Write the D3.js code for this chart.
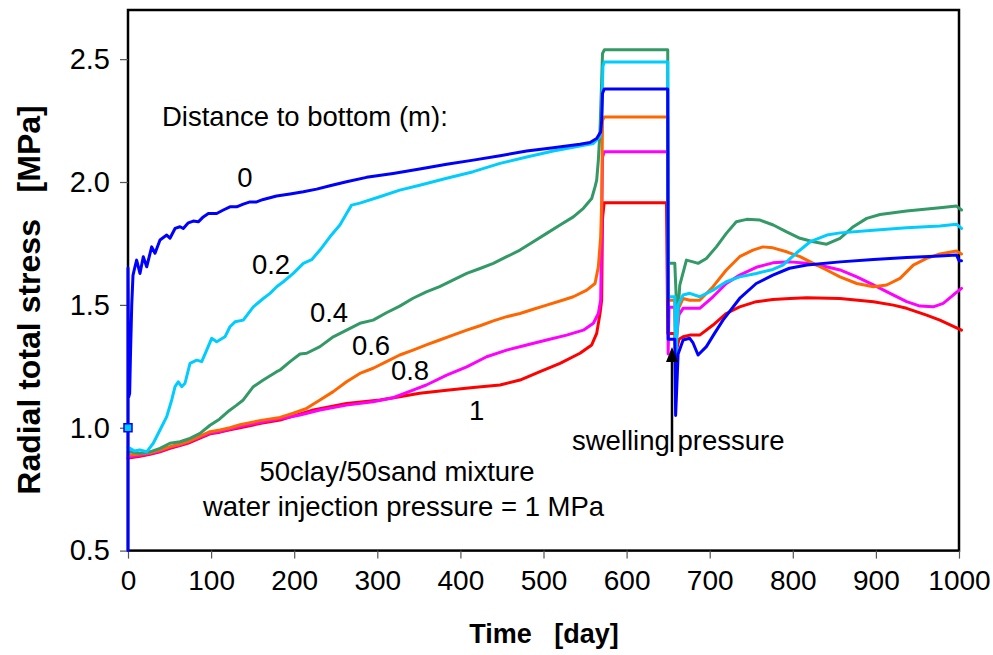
<!DOCTYPE html>
<html><head><meta charset="utf-8">
<script src="https://cdn.jsdelivr.net/npm/d3@7"></script>
<style>
html,body{margin:0;padding:0;background:#fff;}
svg text{font-family:Arial,"Liberation Sans",sans-serif;fill:#000;}
</style></head>
<body><svg id="c" width="993" height="655"></svg>
<script>
// ---- data ----
const xTicks = [0,100,200,300,400,500,600,700,800,900,1000];
const yTicks = [0.5,1.0,1.5,2.0,2.5];
const seriesNames = ["0","0.2","0.4","0.6","0.8","1"];
const seriesColors = ["#0000FF","#00CCFF","#339966","#FF6600","#FF00FF","#FF0000"];

const s0 = [[0,0.5],[0,1.65],[0.8,1.125],[2,1.14],[3,1.3],[4.5,1.5],[6,1.62],[8.4,1.655],[10.4,1.682],[14.4,1.628],[18.4,1.696],[22.5,1.655],[28.5,1.736],[32.5,1.71],[38.5,1.764],[46.6,1.784],[50.5,1.771],[56.6,1.811],[62.6,1.818],[66.5,1.811],[72.6,1.834],[78.6,1.841],[84.6,1.838],[90.6,1.858],[96.7,1.872],[106.7,1.872],[114.7,1.886],[122.7,1.899],[130.7,1.899],[138.7,1.91],[146.8,1.919],[154.8,1.919],[162.8,1.929],[178.8,1.943],[195,1.951],[211,1.96],[227,1.971],[243,1.985],[263,2.001],[287,2.019],[319,2.035],[351,2.053],[383.5,2.072],[415.5,2.089],[447.7,2.107],[479.8,2.126],[511.8,2.139],[543.9,2.154],[556,2.161],[564,2.177],[568.8,2.204],[570,2.25],[571,2.36],[573,2.378],[649.5,2.378],[650,1.36],[658,1.36],[659,1.05],[662,1.30],[668,1.357],[676,1.364],[680,1.345],[686,1.296],[696,1.33],[706,1.385],[716,1.438],[736,1.526],[756,1.587],[776,1.621],[796,1.649],[817,1.662],[857,1.675],[897,1.685],[937,1.693],[977,1.699],[997,1.703],[1000,1.68],[1003,1.68]];

const s02 = [[0,0.92],[2.4,0.916],[8,0.905],[14,0.91],[22.5,0.902],[30.4,0.937],[38.5,0.991],[46.6,1.045],[52.6,1.113],[56.6,1.167],[60.5,1.187],[64.6,1.167],[68.6,1.181],[74.6,1.262],[82.7,1.275],[88.7,1.269],[94.7,1.316],[100.7,1.364],[106.7,1.35],[116.7,1.37],[122.7,1.411],[128.8,1.431],[138.7,1.438],[150.8,1.492],[162.8,1.526],[170.9,1.547],[178.9,1.574],[186.9,1.594],[198.9,1.628],[211,1.669],[221,1.684],[231,1.723],[243,1.777],[255,1.825],[263,1.872],[269,1.906],[279,1.914],[303,1.94],[327,1.967],[351,1.987],[383.5,2.015],[415.5,2.042],[447.7,2.076],[479.8,2.102],[511.8,2.126],[543.9,2.146],[560,2.157],[568,2.184],[570,2.25],[571.5,2.47],[573,2.488],[649.5,2.488],[650,1.533],[658,1.533],[659,1.25],[662,1.50],[668,1.54],[676,1.547],[688,1.533],[704,1.56],[720,1.594],[736,1.614],[756,1.628],[776,1.644],[788,1.662],[804,1.71],[821,1.757],[841,1.784],[857,1.793],[897,1.804],[937,1.814],[977,1.821],[997,1.828],[1003,1.811]];

const s04 = [[0,0.9],[2.4,0.902],[14.4,0.896],[26.5,0.902],[38.5,0.916],[50.5,0.937],[62.6,0.943],[74.6,0.957],[86.6,0.977],[98.7,1.01],[110,1.035],[120,1.065],[130,1.09],[138.7,1.113],[150.8,1.167],[162.8,1.194],[178.9,1.228],[183,1.235],[195,1.269],[207,1.3],[215,1.303],[231,1.33],[247,1.37],[263,1.397],[279,1.425],[295,1.438],[311,1.468],[327,1.495],[343,1.527],[359,1.553],[375,1.574],[391,1.601],[407.6,1.628],[423.6,1.648],[439.6,1.669],[455.7,1.696],[471.7,1.723],[487.7,1.757],[503.8,1.791],[519.9,1.825],[535.9,1.858],[548,1.893],[558,1.933],[562,1.98],[564,2.008],[566,2.089],[568,2.211],[570,2.414],[571,2.523],[573.3,2.538],[649.5,2.538],[650,1.669],[658,1.669],[661,1.425],[664,1.58],[672,1.682],[680,1.675],[686,1.669],[696,1.689],[708,1.736],[720,1.791],[732,1.838],[744.5,1.848],[760.5,1.845],[776.5,1.825],[792.6,1.797],[808.7,1.771],[824.7,1.757],[840.7,1.747],[856.8,1.771],[872.8,1.818],[888.9,1.852],[905,1.868],[937,1.882],[977,1.895],[997,1.902],[1003,1.886]];

const s06 = [[0,0.89],[2.4,0.889],[14.4,0.893],[26.5,0.898],[38.5,0.909],[50.5,0.923],[62.6,0.934],[74.6,0.947],[86.6,0.966],[98.7,0.984],[110.7,0.991],[122.7,1.0],[134.8,1.012],[160,1.03],[182.9,1.042],[198.9,1.059],[215,1.079],[231,1.113],[247,1.147],[263,1.187],[279,1.221],[295,1.242],[311,1.269],[327,1.296],[343,1.316],[359,1.337],[375,1.357],[391,1.377],[407.6,1.397],[423.6,1.415],[439.6,1.435],[455.7,1.452],[471.7,1.465],[487.7,1.482],[503.8,1.499],[523.8,1.52],[535.9,1.533],[552,1.56],[562,1.587],[566,1.655],[568.8,1.777],[570,1.913],[571,2.25],[573,2.265],[649.5,2.265],[650,1.519],[658,1.519],[659,1.33],[663,1.49],[668,1.526],[676,1.519],[688,1.519],[704,1.574],[720,1.642],[736,1.696],[752,1.723],[764,1.736],[776,1.732],[792.6,1.716],[808.7,1.696],[824.7,1.669],[840.7,1.642],[856.8,1.614],[877,1.587],[897,1.574],[913,1.581],[929,1.608],[945,1.662],[961,1.689],[977,1.707],[997,1.719],[1003,1.707]];

const s08 = [[0,0.88],[2.4,0.882],[14.4,0.888],[26.5,0.895],[38.5,0.905],[50.5,0.92],[62.6,0.93],[74.6,0.944],[86.6,0.962],[98.7,0.978],[110.7,0.985],[122.7,0.995],[134.8,1.005],[160,1.022],[183,1.036],[207,1.052],[231,1.072],[263,1.092],[295,1.106],[319,1.122],[343,1.153],[359,1.174],[383.5,1.214],[407.6,1.248],[431.6,1.289],[455.7,1.316],[479.8,1.337],[503.8,1.357],[527.8,1.377],[548,1.397],[560,1.425],[566,1.465],[568.8,1.52],[570,1.8],[571,2.1],[573,2.123],[649.5,2.123],[650,1.30],[651,1.49],[658,1.49],[659,1.33],[663,1.46],[668,1.486],[676,1.486],[688,1.486],[704,1.533],[720,1.587],[736,1.621],[756,1.653],[776,1.671],[796.6,1.675],[816.7,1.669],[836.6,1.658],[856.8,1.642],[877,1.614],[897,1.581],[917,1.547],[937,1.513],[953,1.495],[969,1.492],[981,1.506],[993,1.54],[1003,1.567]];

const s1 = [[0,0.875],[2.4,0.878],[14.4,0.884],[26.5,0.892],[38.5,0.902],[50.5,0.916],[62.6,0.927],[74.6,0.94],[86.6,0.958],[98.7,0.975],[110.7,0.982],[122.7,0.992],[134.8,1.0],[160,1.018],[183,1.031],[223,1.072],[263,1.099],[303,1.113],[327,1.126],[351,1.14],[383.5,1.153],[415.5,1.164],[447.7,1.174],[471.7,1.194],[495.8,1.228],[519.9,1.262],[543.9,1.303],[558,1.337],[564,1.384],[568,1.465],[570,1.52],[571,1.85],[573,1.916],[648,1.916],[649.5,1.384],[658,1.384],[659,1.30],[663,1.36],[668,1.37],[676,1.377],[688,1.377],[704,1.418],[720,1.465],[736,1.492],[756,1.513],[776,1.522],[796.6,1.526],[816.7,1.529],[856.8,1.526],[897,1.513],[921,1.499],[937,1.486],[961,1.458],[977,1.438],[1003,1.397]];

const seriesData = [s0, s02, s04, s06, s08, s1];
const markerPoint = [0, 1.0];

// ---- layout ----
const svg = d3.select("#c");
const x = d3.scaleLinear().domain([0,1000]).range([128,959]);
const y = d3.scaleLinear().domain([0.5,2.7]).range([550.6,10]);

// plot frame
svg.append("rect").attr("x",128).attr("y",10).attr("width",831).attr("height",540.6)
  .attr("fill","none").attr("stroke","#000").attr("stroke-width",2.5);

// axes
const xAxis = svg.append("g").attr("transform","translate(0,550.6)")
  .call(d3.axisBottom(x).tickValues(xTicks).tickSize(8).tickPadding(12).tickFormat(d3.format("d")));
const yAxis = svg.append("g").attr("transform","translate(128,0)")
  .call(d3.axisLeft(y).tickValues(yTicks).tickSize(8).tickPadding(10).tickFormat(d3.format(".1f")));
[xAxis,yAxis].forEach(a=>{
  a.select(".domain").remove();
  a.selectAll(".tick line").attr("stroke","#555").attr("stroke-width",1.2);
  a.selectAll(".tick text").attr("font-size",28).attr("fill","#000")
   .attr("font-family","Arial, 'Liberation Sans', sans-serif");
});
yAxis.selectAll(".tick text").attr("font-size",29);

// lines, drawn bottom-most last series first
const line = d3.line().x(d=>x(d[0])).y(d=>y(d[1]));
for (let i = seriesData.length-1; i >= 0; i--) {
  svg.append("path").datum(seriesData[i]).attr("d",line)
    .attr("fill","none").attr("stroke",seriesColors[i]).attr("stroke-width",3)
    .attr("stroke-linejoin","round").attr("stroke-linecap","round");
}
// marker square
svg.append("rect").attr("x",x(markerPoint[0])-4).attr("y",y(markerPoint[1])-4)
  .attr("width",8).attr("height",8).attr("fill","#00CCFF").attr("stroke","#0000FF").attr("stroke-width",1.5);

// annotations
const ann = svg.append("g").attr("font-size",27.5);
ann.append("text").attr("x",162).attr("y",126).text("Distance to bottom (m):");
const labelPos = [[245,187],[271,274],[329,322],[371,355],[410,380],[476.7,420]];
seriesNames.forEach((n,i)=>{
  ann.append("text").attr("x",labelPos[i][0]).attr("y",labelPos[i][1]).attr("text-anchor","middle").text(n);
});
ann.append("text").attr("x",572).attr("y",450).text("swelling pressure");
ann.append("text").attr("x",397).attr("y",481).attr("text-anchor","middle").text("50clay/50sand mixture");
ann.append("text").attr("x",403.5).attr("y",516).attr("text-anchor","middle").text("water injection pressure = 1 MPa");

// arrow
svg.append("line").attr("x1",672).attr("y1",452).attr("x2",672).attr("y2",360)
  .attr("stroke","#000").attr("stroke-width",2.5);
svg.append("path").attr("d","M672,347 L666,362 L678,362 Z").attr("fill","#000");

// axis titles
svg.append("text").attr("x",544).attr("y",643).attr("text-anchor","middle")
  .attr("font-size",27).attr("font-weight","bold").attr("xml:space","preserve").text("Time   [day]");
svg.append("text").attr("transform","translate(40,300) rotate(-90)").attr("text-anchor","middle")
  .attr("font-size",32).attr("font-weight","bold").attr("xml:space","preserve").text("Radial total stress   [MPa]");
</script></body></html>
